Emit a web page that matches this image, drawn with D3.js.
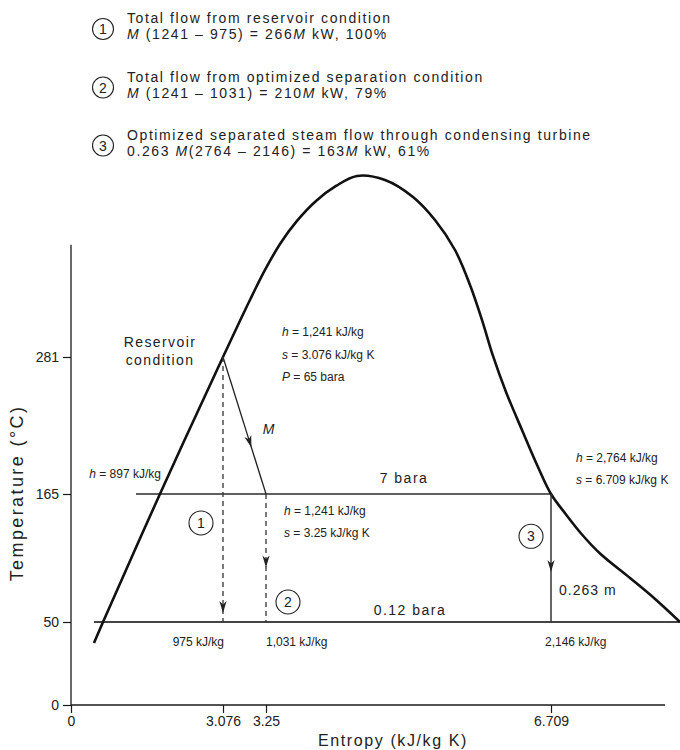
<!DOCTYPE html>
<html>
<head>
<meta charset="utf-8">
<script src="https://cdn.jsdelivr.net/npm/d3@7"></script>
<style>
  html, body { margin: 0; padding: 0; background: #fff; }
  svg { display: block; font-family: "Liberation Sans", Arial, Helvetica, sans-serif; }
</style>
</head>
<body>
<svg id="chart" width="680" height="750"></svg>
<script>
// ---- Axis ticks ----
const sTicks = [0, 3.076, 3.25, 6.709];
const tTicks = [0, 50, 165, 281];

// ---- Saturation dome (entropy kJ/kg K, temperature °C), liquid side then vapour side ----
const domeS = [0.465, 0.648, 1.80, 3.076, 3.185, 3.246, 3.420, 3.626, 3.857, 4.100, 4.355,
               4.694, 5.034, 5.301, 5.544, 5.726, 5.872, 6.005, 6.163, 6.357, 6.551, 6.709,
               6.891, 7.085, 7.304, 7.668, 7.972, 8.275];
const domeT = [37.3, 50, 165, 281, 329.3, 354.7, 376.7, 396.2, 413.1, 425.8, 434.3,
               430.9, 416.5, 397.0, 371.6, 342.0, 312.3, 281.9, 251.4, 219.2, 187.9, 165,
               146.6, 128.6, 111.5, 89.5, 70.7, 50];

// ---- Isobars ----
const isoLabels = ["7 bara", "0.12 bara"];
const isoT = [165, 50];
const isoStartS = [1.315, 0.465];
const isoEndS = [6.709, 8.275];

// ---- State points: reservoir, separator inlet, separated steam ----
const stateS = [3.076, 3.25, 6.709];
const stateT = [281, 165, 165];
const stateH = [1241, 1241, 2764];
const exitT = 50;
const exitH = [975, 1031, 2146];
const liquidH7 = 897;
const steamFraction = 0.263;

// ---- Legend ----
const legendNums = [1, 2, 3];
const legendTitles = [
  "Total flow from reservoir condition",
  "Total flow from optimized separation condition",
  "Optimized separated steam flow through condensing turbine"
];
const legendFormulas = [
  [["M", true], [" (1241 \u2013 975) = 266", false], ["M", true], [" kW, 100%", false]],
  [["M", true], [" (1241 \u2013 1031) = 210", false], ["M", true], [" kW, 79%", false]],
  [["0.263 ", false], ["M", true], ["(2764 \u2013 2146) = 163", false], ["M", true], [" kW, 61%", false]]
];

const svg = d3.select("#chart");
const ink = "#1a1a1a";

// Schematic (piecewise) scales, as in the original diagram
const x = d3.scaleLinear().domain(sTicks).range([71, 223, 266, 551]);
const y = d3.scaleLinear().domain(tTicks).range([705, 622, 494, 357]);
const sMax = 8.093, tMax = 376;

// ---- Axes ----
const gx = svg.append("g").attr("transform", `translate(0,${y(0)})`)
  .call(d3.axisBottom(x).tickValues(sTicks).tickSize(8).tickPadding(3)
    .tickFormat(d => d === 0 ? "0" : String(d)));
const gy = svg.append("g").attr("transform", `translate(${x(0)},0)`)
  .call(d3.axisLeft(y).tickValues(tTicks).tickSize(8).tickPadding(4)
    .tickFormat(d3.format("d")));
[gx, gy].forEach(g => {
  g.select(".domain").remove();
  g.selectAll(".tick line").attr("stroke", ink).attr("stroke-width", 1.2);
  g.selectAll(".tick text").attr("fill", "#222").style("font-size", "14px")
    .style("font-family", "'Liberation Sans', Arial, sans-serif");
});
svg.append("line").attr("x1", x(0)).attr("x2", x(sMax)).attr("y1", y(0)).attr("y2", y(0))
  .attr("stroke", ink).attr("stroke-width", 1.3);
svg.append("line").attr("x1", x(0)).attr("x2", x(0)).attr("y1", y(0)).attr("y2", y(tMax))
  .attr("stroke", ink).attr("stroke-width", 1.3);

svg.append("text").attr("x", 393).attr("y", 746).attr("text-anchor", "middle")
  .style("font-size", "16px").style("letter-spacing", "1.6px").attr("fill", "#222")
  .text("Entropy (kJ/kg K)");
svg.append("text").attr("transform", "translate(23,493) rotate(-90)").attr("text-anchor", "middle")
  .style("font-size", "18px").style("letter-spacing", "2.4px").attr("fill", "#222")
  .text("Temperature (\u00B0C)");

// ---- Isobars ----
isoT.forEach((t, i) => {
  svg.append("line").attr("x1", x(isoStartS[i])).attr("x2", x(isoEndS[i]))
    .attr("y1", y(t)).attr("y2", y(t))
    .attr("stroke", i === 0 ? "#2a2a2a" : "#444").attr("stroke-width", i === 0 ? 1.3 : 1.8);
});
svg.append("text").attr("x", 404).attr("y", y(isoT[0]) - 11).attr("text-anchor", "middle")
  .style("font-size", "14px").style("letter-spacing", "1.5px").attr("fill", "#222").text(isoLabels[0]);
svg.append("text").attr("x", 410).attr("y", y(isoT[1]) - 7).attr("text-anchor", "middle")
  .style("font-size", "14px").style("letter-spacing", "1.5px").attr("fill", "#222").text(isoLabels[1]);

// ---- Dome ----
const domePts = domeS.map((s, i) => [x(s), y(domeT[i])]);
svg.append("path").datum(domePts)
  .attr("d", d3.line().curve(d3.curveCatmullRom.alpha(0.5)))
  .attr("fill", "none").attr("stroke", "#111").attr("stroke-width", 2.6)
  .attr("stroke-linejoin", "round");

// ---- Arrowhead helper ----
function arrowHead(px, py, angleDeg) {
  svg.append("path")
    .attr("d", "M0,0 L-3.6,-12 L0,-8.5 L3.6,-12 Z")
    .attr("transform", `translate(${px},${py}) rotate(${angleDeg})`)
    .attr("fill", "#222");
}

// Flash process M: reservoir -> 7 bara
const x0 = x(stateS[0]), y0 = y(stateT[0]), x1 = x(stateS[1]), y1 = y(stateT[1]);
svg.append("line").attr("x1", x0).attr("y1", y0).attr("x2", x1).attr("y2", y1)
  .attr("stroke", "#222").attr("stroke-width", 1.3);
const f = 0.66;
const ang = Math.atan2(y1 - y0, x1 - x0) * 180 / Math.PI - 90;
arrowHead(x0 + f * (x1 - x0), y0 + f * (y1 - y0), ang);
svg.append("text").attr("x", x0 + 0.6 * (x1 - x0) + 14).attr("y", y0 + 0.6 * (y1 - y0) - 5)
  .style("font-size", "14px").style("font-style", "italic").attr("fill", "#222").text("M");

// Expansion lines to condenser pressure
const expTip = [58, 99, 95];
stateS.forEach((s, i) => {
  svg.append("line").attr("x1", x(s)).attr("x2", x(s))
    .attr("y1", y(stateT[i])).attr("y2", y(exitT))
    .attr("stroke", "#333").attr("stroke-width", i === 2 ? 1.5 : 1.3)
    .attr("stroke-dasharray", i === 2 ? null : "5,4");
  arrowHead(x(s), y(expTip[i]), 0);
});

// Circled process numbers on the diagram
const circlePos = [[x(stateS[0]) - 22, y(139)], [x(stateS[1]) + 22, y(exitT) - 20], [x(stateS[2]) - 20, y(127)]];
function circledNum(cx, cy, n, r) {
  svg.append("circle").attr("cx", cx).attr("cy", cy).attr("r", r)
    .attr("fill", "#fff").attr("stroke", "#222").attr("stroke-width", 1.1);
  svg.append("text").attr("x", cx).attr("y", cy + 5).attr("text-anchor", "middle")
    .style("font-size", "14px").attr("fill", "#222").text(n);
}
legendNums.forEach((n, i) => circledNum(circlePos[i][0], circlePos[i][1], n, 12));

// ---- State annotations ----
const fmtH = d3.format(",");
function annot(px, py, lines, gap) {
  const t = svg.append("text").attr("fill", "#222").style("font-size", "12px");
  lines.forEach((parts, k) => {
    const row = t.append("tspan").attr("x", px).attr("y", py + k * gap);
    parts.forEach(([str, it]) => {
      row.append("tspan").style("font-style", it ? "italic" : "normal").text(str);
    });
  });
}
annot(x(stateS[0]) + 59, y(stateT[0]) - 21, [
  [["h", true], [" = " + fmtH(stateH[0]) + " kJ/kg", false]],
  [["s", true], [" = " + stateS[0] + " kJ/kg K", false]],
  [["P", true], [" = 65 bara", false]]
], 22.5);
annot(x(stateS[1]) + 18, y(stateT[1]) + 21, [
  [["h", true], [" = " + fmtH(stateH[1]) + " kJ/kg", false]],
  [["s", true], [" = " + stateS[1] + " kJ/kg K", false]]
], 22);
annot(x(stateS[2]) + 25, y(stateT[2]) - 32, [
  [["h", true], [" = " + fmtH(stateH[2]) + " kJ/kg", false]],
  [["s", true], [" = " + stateS[2] + " kJ/kg K", false]]
], 21.5);
svg.append("text").attr("x", x(1.80) + 1).attr("y", y(isoT[0]) - 16).attr("text-anchor", "end")
  .attr("fill", "#222").style("font-size", "12px")
  .call(t => { t.append("tspan").style("font-style", "italic").text("h");
               t.append("tspan").text(" = " + liquidH7 + " kJ/kg"); });

svg.append("text").attr("x", 160).attr("y", y(stateT[0]) - 10).attr("text-anchor", "middle")
  .style("font-size", "14px").style("letter-spacing", "1.4px").attr("fill", "#222").text("Reservoir");
svg.append("text").attr("x", 160).attr("y", y(stateT[0]) + 8).attr("text-anchor", "middle")
  .style("font-size", "14px").style("letter-spacing", "1.4px").attr("fill", "#222").text("condition");

svg.append("text").attr("x", x(stateS[2]) + 8).attr("y", y(exitT) - 27)
  .style("font-size", "14px").style("letter-spacing", "1px").attr("fill", "#222")
  .text(steamFraction + " m");

// Exhaust enthalpies
const exitAnchor = ["end", "start", "start"];
const exitDx = [1, 0, -6];
exitH.forEach((h, i) => {
  svg.append("text").attr("x", x(stateS[i]) + exitDx[i]).attr("y", y(exitT) + 24)
    .attr("text-anchor", exitAnchor[i]).style("font-size", "12px").attr("fill", "#222")
    .text(fmtH(h) + " kJ/kg");
});

// ---- Legend ----
const legTop = [23, 81.5, 139.5];
legendNums.forEach((n, i) => {
  circledNum(103, legTop[i] + 6, n, 10.5);
  svg.append("text").attr("x", 127).attr("y", legTop[i])
    .style("font-size", "14px").style("letter-spacing", "1.6px").attr("fill", "#222")
    .text(legendTitles[i]);
  const t = svg.append("text").attr("x", 127).attr("y", legTop[i] + 16.3)
    .style("font-size", "14px").style("letter-spacing", "1.6px").attr("fill", "#222");
  legendFormulas[i].forEach(([str, it]) => {
    t.append("tspan").style("font-style", it ? "italic" : "normal").text(str);
  });
});
</script>
</body>
</html>
